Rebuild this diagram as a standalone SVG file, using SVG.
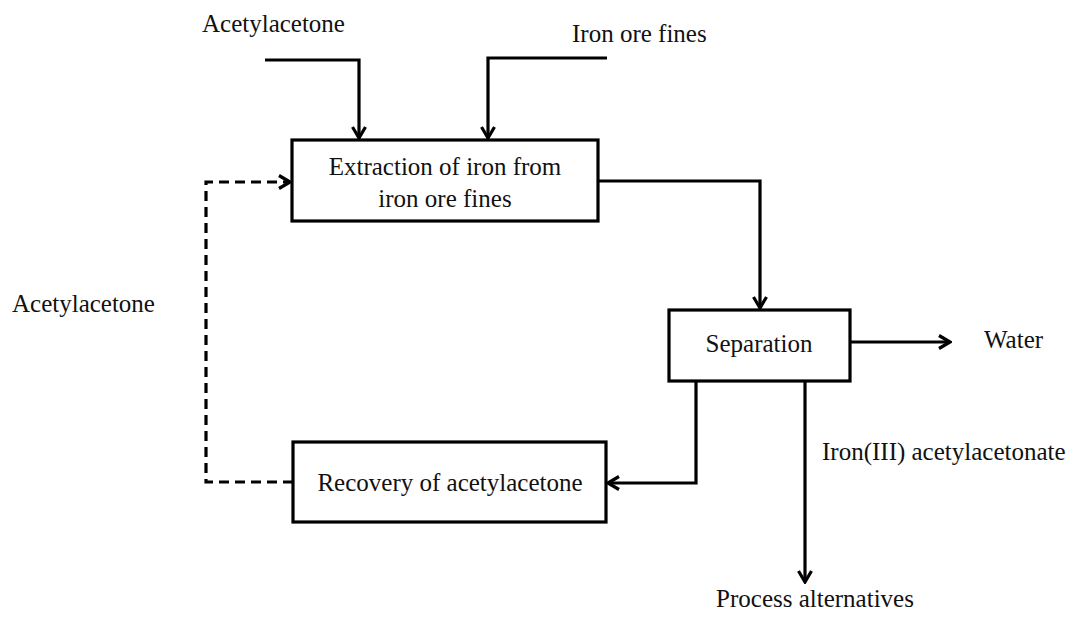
<svg xmlns="http://www.w3.org/2000/svg" width="1081" height="621" viewBox="0 0 1081 621">
<defs>
<style>
.box{fill:#fff;stroke:#000;stroke-width:3.2}
.ln{fill:none;stroke:#000;stroke-width:3.2}
.dash{fill:none;stroke:#000;stroke-width:3.2;stroke-dasharray:10,6}
text{font-family:"Liberation Serif","Times New Roman",serif;font-size:25px;fill:#111}
.c{text-anchor:middle}
</style>
<marker id="ah" viewBox="0 0 16 16" refX="14" refY="8" markerWidth="16" markerHeight="16" markerUnits="userSpaceOnUse" orient="auto">
<path d="M3,1.5 L14,8 L3,14.5" fill="none" stroke="#000" stroke-width="3.2"/>
</marker>
</defs>
<rect width="1081" height="621" fill="#fff"/>
<g id="connectors">
<path class="ln" d="M265,60 H359 V138" marker-end="url(#ah)"/>
<path class="ln" d="M607,58 H488 V138" marker-end="url(#ah)"/>
<path class="ln" d="M598,181 H760 V308" marker-end="url(#ah)"/>
<path class="ln" d="M850,342 H950" marker-end="url(#ah)"/>
<path class="ln" d="M696,381 V483 H608" marker-end="url(#ah)"/>
<path class="ln" d="M805,381 V582" marker-end="url(#ah)"/>
<path class="dash" d="M293,482 H206 V182 H290" marker-end="url(#ah)"/>
</g>
<g id="extraction">
<rect class="box" x="292" y="140" width="306" height="81"/>
<text class="c" x="445" y="175">Extraction of iron from</text>
<text class="c" x="445" y="207">iron ore fines</text>
</g>
<g id="separation">
<rect class="box" x="669" y="310" width="181" height="71"/>
<text class="c" x="759" y="352">Separation</text>
</g>
<g id="recovery">
<rect class="box" x="293" y="442" width="313" height="80"/>
<text class="c" x="450" y="491">Recovery of acetylacetone</text>
</g>
<g id="labels">
<text x="202" y="32">Acetylacetone</text>
<text x="572" y="42">Iron ore fines</text>
<text x="12" y="312">Acetylacetone</text>
<text x="984" y="348">Water</text>
<text x="822" y="460">Iron(III) acetylacetonate</text>
<text class="c" x="815" y="607">Process alternatives</text>
</g>
</svg>
